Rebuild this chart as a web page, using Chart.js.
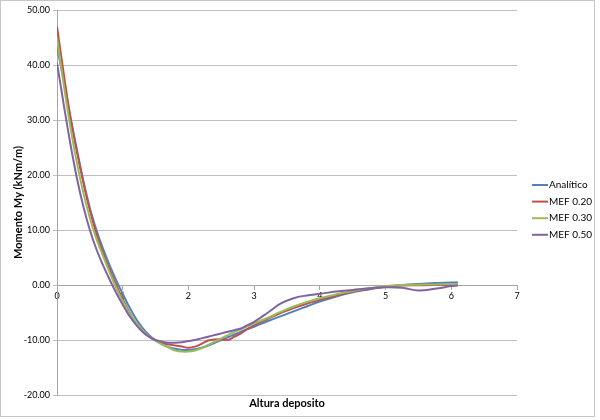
<!DOCTYPE html>
<html>
<head>
<meta charset="utf-8">
<script src="https://cdn.jsdelivr.net/npm/chart.js"></script>
<style>
  html, body { margin: 0; padding: 0; background: #fff; }
  #wrap { width: 600px; height: 420px; }
</style>
</head>
<body>
<div id="wrap"><canvas id="c" width="600" height="420"></canvas></div>
<script>
// ---- data ----
const xs = [0, 0.1, 0.2, 0.3, 0.4, 0.5, 0.6, 0.7, 0.8, 0.9, 1.0, 1.1, 1.2, 1.3, 1.4, 1.5, 1.6, 1.7, 1.8, 1.9,
            2.0, 2.1, 2.2, 2.3, 2.4, 2.5, 2.6, 2.7, 2.8, 2.9, 3.0, 3.2, 3.4, 3.6, 3.8, 4.0, 4.25, 4.5, 4.75,
            5.0, 5.25, 5.5, 5.75, 6.0, 6.1];
const analiticoY = [43.5, 37.2, 30.8, 24.8, 19.0, 14.0, 10.0, 6.6, 3.6, 0.9, -1.6, -4.0, -6.1, -7.8, -9.1, -10.1, -10.8, -11.3, -11.6, -11.8,
                    -11.8, -11.7, -11.4, -11.0, -10.5, -10.0, -9.5, -9.0, -8.5, -8.0, -7.6, -6.6, -5.7, -4.8, -3.9, -3.0, -2.1, -1.3, -0.8,
                    -0.3, 0.0, 0.2, 0.35, 0.45, 0.5];
const mef20Y = [47.0, 38.6, 30.8, 24.4, 18.7, 13.6, 9.3, 5.8, 2.8, 0.0, -2.6, -4.9, -6.9, -8.4, -9.4, -10.1, -10.5, -10.8, -11.0, -11.2,
                -11.4, -11.2, -10.7, -10.1, -9.9, -9.9, -10.0, -9.4, -8.8, -8.0, -7.3, -6.2, -5.1, -4.2, -3.4, -2.7, -1.9, -1.2, -0.7,
                -0.3, -0.1, -0.05, 0.0, 0.0, 0.05];
const mef30Y = [45.0, 36.6, 29.0, 22.4, 16.8, 12.2, 8.4, 5.3, 2.3, -0.5, -2.9, -5.0, -6.8, -8.2, -9.3, -10.1, -10.8, -11.4, -11.9, -12.1,
                -12.1, -11.9, -11.5, -10.9, -10.3, -9.7, -9.1, -8.5, -8.0, -7.5, -7.0, -6.0, -4.9, -3.9, -3.1, -2.4, -1.7, -1.1, -0.6,
                -0.2, 0.0, 0.05, 0.1, 0.15, 0.2];
const mef50Y = [40.4, 33.0, 25.9, 19.6, 14.3, 10.0, 6.5, 3.6, 1.0, -1.4, -3.6, -5.6, -7.2, -8.5, -9.4, -10.0, -10.3, -10.5, -10.5, -10.4,
                -10.2, -10.0, -9.7, -9.4, -9.1, -8.8, -8.5, -8.2, -7.9, -7.3, -6.7, -5.1, -3.4, -2.4, -1.9, -1.6, -1.2, -0.9, -0.6,
                -0.4, -0.5, -1.0, -0.7, -0.2, -0.1];
const seriesNames = ['Analítico', 'MEF 0.20', 'MEF 0.30', 'MEF 0.50'];
const seriesColors = ['#4F81BD', '#C0504D', '#9BBB59', '#8064A2'];
const yTitle = 'Momento My (kNm/m)';
const xTitle = 'Altura deposito';

const FONT = 'Lato, "Open Sans", "Liberation Sans", sans-serif';
const allY = [analiticoY, mef20Y, mef30Y, mef50Y];

const datasets = allY.map((arr, k) => ({
  label: seriesNames[k],
  data: xs.map((x, i) => ({ x: x, y: arr[i] })),
  borderColor: seriesColors[k],
  backgroundColor: seriesColors[k],
  borderWidth: 2,
  pointRadius: 0,
  pointHoverRadius: 0,
  tension: 0.4,
  fill: false,
  order: 4 - k
}));

const frame = {
  id: 'frame',
  beforeDraw(chart) {
    const ctx = chart.ctx;
    ctx.save();
    ctx.fillStyle = '#ffffff';
    ctx.fillRect(0, 0, chart.width, chart.height);
    ctx.strokeStyle = '#c6c6c6';
    ctx.lineWidth = 1;
    ctx.strokeRect(0.5, 0.5, 594, 416);
    ctx.restore();
  }
};

const legendPlugin = {
  id: 'customLegend',
  afterDraw(chart) {
    const ctx = chart.ctx;
    ctx.save();
    ctx.font = '10px ' + FONT;
    ctx.textBaseline = 'middle';
    ctx.textAlign = 'left';
    chart.data.datasets.forEach((ds, i) => {
      const y = 185 + i * 16.6;
      ctx.strokeStyle = ds.borderColor;
      ctx.lineWidth = 2;
      ctx.beginPath();
      ctx.moveTo(532, y);
      ctx.lineTo(548, y);
      ctx.stroke();
      ctx.fillStyle = '#000000';
      ctx.fillText(ds.label, 549, y);
    });
    ctx.restore();
  }
};

new Chart(document.getElementById('c'), {
  type: 'line',
  data: { datasets: datasets },
  plugins: [frame, legendPlugin],
  options: {
    responsive: false,
    animation: false,
    events: [],
    layout: { padding: { left: 7.4, top: 10, right: 83, bottom: 9.8 } },
    plugins: {
      legend: { display: false },
      tooltip: { enabled: false },
      title: {
        display: true,
        position: 'bottom',
        fullSize: false,
        text: xTitle,
        color: '#000000',
        font: { family: FONT, size: 11, weight: 'bold' },
        padding: { top: 2, bottom: 0 }
      }
    },
    scales: {
      x: {
        type: 'linear',
        position: { y: 0 },
        min: 0,
        max: 7,
        ticks: {
          stepSize: 1,
          padding: 2,
          color: '#000000',
          font: { family: FONT, size: 9 },
          maxRotation: 0
        },
        grid: { display: true, drawOnChartArea: false, drawTicks: true, tickLength: 4, color: '#a6a6a6' },
        border: { display: true, color: '#a6a6a6', width: 1 }
      },
      y: {
        type: 'linear',
        position: 'left',
        min: -20,
        max: 50,
        afterFit(scale) { scale.width = 49.6; },
        ticks: {
          stepSize: 10,
          padding: 3,
          color: '#000000',
          font: { family: FONT, size: 9 },
          callback: v => Number(v).toFixed(2)
        },
        grid: { color: '#bfbfbf', tickLength: 4, drawTicks: true },
        border: { display: true, color: '#a6a6a6', width: 1 },
        title: {
          display: true,
          text: yTitle,
          color: '#000000',
          font: { family: FONT, size: 11, weight: 'bold' },
          padding: { top: 4, bottom: 4 }
        }
      }
    }
  }
});
</script>
</body>
</html>
